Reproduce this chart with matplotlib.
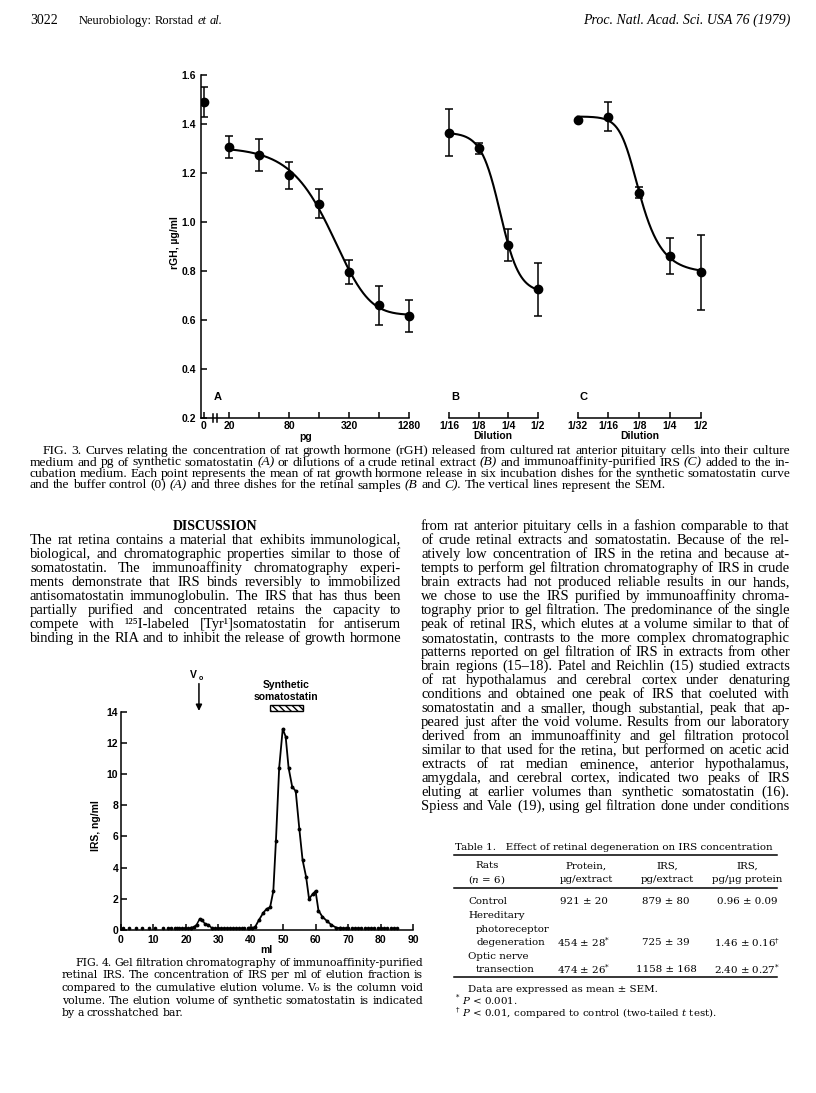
import numpy as np
import matplotlib
matplotlib.use("Agg")
import matplotlib.pyplot as plt
from matplotlib.patches import Rectangle
from matplotlib.lines import Line2D
from matplotlib.ticker import NullLocator

W, H = 816, 1093
SANS = ["Liberation Sans", "DejaVu Sans"]
SERIF = ["Liberation Serif", "DejaVu Serif"]
WIDE = ["DejaVu Serif"]
plt.rcParams["mathtext.fontset"] = "dejavuserif"

# ---- Fig. 3 data (rGH, ug/ml, mean and SEM) ----
pg_doses = [20, 40, 80, 160, 320, 640, 1280]
rgh_a = [1.305, 1.275, 1.19, 1.075, 0.795, 0.66, 0.615]
sem_a = [0.045, 0.065, 0.055, 0.06, 0.05, 0.08, 0.065]
control_rgh = 1.49
control_sem = 0.06
control_pos = 11.2  # where the "0" dose sits on the broken axis

dil_b = [1 / 16, 1 / 8, 1 / 4, 1 / 2]
rgh_b = [1.365, 1.30, 0.905, 0.725]
sem_b = [0.095, 0.022, 0.066, 0.109]

dil_c = [1 / 32, 1 / 16, 1 / 8, 1 / 4, 1 / 2]
rgh_c = [1.415, 1.43, 1.12, 0.862, 0.795]
sem_c = [0.0, 0.06, 0.022, 0.073, 0.153]

a_tick_pos = [control_pos, 20, 40, 80, 160, 320, 640, 1280]
a_tick_lab = ["0", "20", "", "80", "", "320", "", "1280"]
b_tick_lab = ["1/16", "1/8", "1/4", "1/2"]
c_tick_lab = ["1/32", "1/16", "1/8", "1/4", "1/2"]
rgh_ticks = [0.2, 0.4, 0.6, 0.8, 1.0, 1.2, 1.4, 1.6]

# ---- Fig. 4 data (IRS, ng/ml vs elution volume, ml) ----
base_ml = [0.5, 2.5, 4.5, 6.5, 8.5, 10.5, 13, 14.5, 15.5, 16.5, 17.3, 18,
           18.8, 19.7, 20.7, 21.5, 28.8, 29.8, 30.8, 31.8, 32.6, 33.5, 34.5,
           35.5, 36.3, 37.2, 38, 39, 67.3, 68.3, 69.2, 70, 71, 72, 73, 74, 75,
           76, 77, 78, 79, 80, 81, 82, 83, 84, 85]
base_irs = [0.15, 0.15, 0.15, 0.15, 0.15, 0.15, 0.15, 0.15, 0.15, 0.15, 0.15,
            0.15, 0.15, 0.15, 0.15, 0.15, 0.1, 0.1, 0.1, 0.1, 0.1, 0.1, 0.1,
            0.1, 0.1, 0.1, 0.1, 0.1, 0.12, 0.12, 0.12, 0.12, 0.12, 0.12, 0.12,
            0.12, 0.12, 0.12, 0.12, 0.12, 0.12, 0.12, 0.12, 0.12, 0.12, 0.12,
            0.12]
void_ml = [21.5, 22.5, 23.3, 24.2, 25.0, 25.8, 26.8, 28.0]
void_irs = [0.15, 0.2, 0.35, 0.7, 0.65, 0.4, 0.35, 0.12]
peak_ml = [39.5, 40.2, 41.3, 42.5, 43.8, 44.8, 45.9, 46.9, 47.7, 48.7, 49.8,
           50.7, 51.6, 52.7, 53.8, 54.9, 55.9, 57.0, 57.9, 59.0, 59.9, 60.8,
           62.0, 63.3, 64.8, 66.3, 67.3]
peak_irs = [0.1, 0.1, 0.2, 0.65, 1.1, 1.35, 1.45, 2.5, 5.7, 10.4, 12.9, 12.4,
            10.4, 9.2, 8.9, 6.5, 4.5, 3.4, 2.0, 2.3, 2.5, 1.25, 0.85, 0.6,
            0.32, 0.15, 0.12]
void_volume = 24
somatostatin_ml = (46, 56)

fig = plt.figure(figsize=(W / 100, H / 100), dpi=100)
renderer = fig.canvas.get_renderer()


def fx(x):
    return x / W


def fy(y):
    return 1 - y / H


def add_axes(left, top, right, bottom):
    return fig.add_axes([fx(left), fy(bottom), (right - left) / W, (bottom - top) / H])


def fit_logistic(x, y, asym=False):
    # least squares logistic fit on log2 dose, grid over shape, linear for top/bottom
    x = np.asarray(x, float)
    y = np.asarray(y, float)
    best = None
    gs = np.linspace(0.3, 3.0, 19) if asym else [1.0]
    for c in np.linspace(x.min(), x.max(), 41):
        for s in np.linspace(0.5, 4.0, 36):
            for g in gs:
                f = 1 / (1 + np.exp(s * (x - c))) ** g
                A = np.column_stack([np.ones_like(x), f])
                coef = np.linalg.lstsq(A, y, rcond=None)[0]
                err = np.sum((A @ coef - y) ** 2)
                if best is None or err < best[0]:
                    best = (err, c, s, g, coef)
    _, c, s, g, coef = best
    return lambda xx: coef[0] + coef[1] / (1 + np.exp(s * (xx - c))) ** g


def style_ticks(ax, size=7.5):
    for lab in ax.get_xticklabels() + ax.get_yticklabels():
        lab.set_fontfamily(SANS)
        lab.set_fontweight("bold")
        lab.set_fontsize(size)


def dose_panel(ax, doses, vals, sems, asym=False):
    lx = np.log2(doses)
    curve = fit_logistic(lx, vals, asym)
    xx = np.linspace(lx[0], lx[-1], 300)
    ax.plot(2 ** xx, curve(xx), color="black", lw=1.5, clip_on=False)
    eb = ax.errorbar(doses, vals, yerr=sems, fmt="o", color="black", ms=6,
                     capsize=3, elinewidth=1.1, capthick=1.1)
    for art in [eb.lines[0], *eb.lines[1], *eb.lines[2]]:
        art.set_clip_on(False)
    ax.set_xscale("log", base=2)
    ax.set_ylim(0.2, 1.6)
    ax.xaxis.set_minor_locator(NullLocator())
    ax.spines[["top", "right"]].set_visible(False)
    ax.tick_params(direction="in", length=4, width=1.1, pad=2.5)
    for sp in ax.spines.values():
        sp.set_linewidth(1.1)
    ax.patch.set_alpha(0)


# ---------------- Fig. 3 ----------------
ax_a = add_axes(201, 75, 409, 418)
dose_panel(ax_a, pg_doses, rgh_a, sem_a, asym=True)
eb = ax_a.errorbar([control_pos], [control_rgh], yerr=[control_sem], fmt="o",
                   color="black", ms=6, capsize=3, elinewidth=1.1, capthick=1.1)
ax_a.set_xlim(10.48, 1280)
ax_a.set_xticks(a_tick_pos, a_tick_lab)
ax_a.set_yticks(rgh_ticks, [f"{v:.1f}" for v in rgh_ticks])
ax_a.tick_params(axis="y", pad=3.5)
ax_a.spines["bottom"].set_bounds(10.48, 1280)
for bx in (13.8, 15.2):
    ax_a.plot([bx, bx], [0.183, 0.217], color="black", lw=1.1, clip_on=False)
style_ticks(ax_a)

ax_b = add_axes(449, 75, 538, 418)
dose_panel(ax_b, dil_b, rgh_b, sem_b)
ax_b.set_xlim(dil_b[0], dil_b[-1])
ax_b.set_xticks(dil_b, b_tick_lab)
ax_b.spines["left"].set_visible(False)
ax_b.tick_params(axis="y", left=False, labelleft=False)
style_ticks(ax_b)

ax_c = add_axes(577.7, 75, 700.7, 418)
dose_panel(ax_c, dil_c, rgh_c, sem_c, asym=True)
ax_c.set_xlim(dil_c[0], dil_c[-1])
ax_c.set_xticks(dil_c, c_tick_lab)
ax_c.spines["left"].set_visible(False)
ax_c.tick_params(axis="y", left=False, labelleft=False)
style_ticks(ax_c)

lab_kw = dict(family=SANS, fontweight="bold", fontsize=7.5, ha="center", va="center")
fig.text(fx(175), fy(243), "rGH, µg/ml", rotation=90, **lab_kw)
fig.text(fx(306), fy(437), "pg", **lab_kw)
fig.text(fx(493), fy(436), "Dilution", **lab_kw)
fig.text(fx(640), fy(436), "Dilution", **lab_kw)
for letter, px in (("A", 218), ("B", 455), ("C", 584)):
    fig.text(fx(px), fy(397), letter, family=SANS, fontweight="bold", fontsize=8,
             ha="center", va="center")

# ---------------- Fig. 4 ----------------
ax4 = add_axes(121, 711.7, 413.3, 930)
ax4.plot(base_ml, base_irs, "o", color="black", ms=1.6, clip_on=False)
ax4.plot(void_ml, void_irs, "-o", color="black", lw=1.1, ms=1.8)
ax4.plot(peak_ml, peak_irs, "-o", color="black", lw=1.3, ms=1.8)
ax4.set_xlim(0, 90)
ax4.set_ylim(0, 14)
ax4.set_xticks(range(0, 91, 10))
ax4.set_yticks(range(0, 15, 2))
ax4.spines[["top", "right"]].set_visible(False)
for sp in ax4.spines.values():
    sp.set_linewidth(1.1)
ax4.tick_params(direction="in", length=4, width=1.1)
ax4.tick_params(axis="x", pad=3.5)
ax4.tick_params(axis="y", pad=2)
ax4.patch.set_alpha(0)
style_ticks(ax4)
ax4.add_patch(Rectangle((somatostatin_ml[0], 14.07), somatostatin_ml[1] - somatostatin_ml[0],
                        0.36, facecolor="white", edgecolor="black", lw=1.0,
                        hatch="\\\\\\\\\\", clip_on=False))
ax4.annotate("", xy=(void_volume, 14.05), xytext=(void_volume, 15.8),
             arrowprops=dict(arrowstyle="-|>", color="black", lw=1.1,
                             mutation_scale=9, shrinkA=0, shrinkB=0),
             annotation_clip=False)
fig.text(fx(193.5), fy(678), "V", family=SANS, fontweight="bold", fontsize=7.5,
         ha="center", va="baseline")
fig.text(fx(200.5), fy(680), "o", family=SANS, fontweight="bold", fontsize=5,
         ha="center", va="baseline")
fig.text(fx(286), fy(685), "Synthetic", **lab_kw)
fig.text(fx(286), fy(696.5), "somatostatin", **lab_kw)
fig.text(fx(96), fy(826), "IRS, ng/ml", rotation=90, **lab_kw)
fig.text(fx(266), fy(950), "ml", **lab_kw)


# ---------------- text of the page ----------------
def para(lines, x0, x1, y0, dy, size, family, first_x=None, justify_last=False,
         weight="normal"):
    rows = []
    for i, line in enumerate(lines):
        words = []
        for w in line.split():
            style = "normal"
            if w.startswith("~"):
                w, style = w[1:], "italic"
            words.append(fig.text(0, fy(y0 + i * dy), w, fontsize=size, family=family,
                                  style=style, weight=weight, va="baseline", ha="left"))
        rows.append(words)
    starts = [x0] * len(rows)
    if first_x is not None:
        starts[0] = first_x

    def measure():
        return [[t.get_window_extent(renderer).width for t in r] for r in rows]

    wd = measure()
    sp = size * 100 / 72 * 0.25
    ratio = max((sum(w) + sp * (len(w) - 1)) / (x1 - s) for w, s in zip(wd, starts))
    if ratio > 1:
        size /= ratio
        sp /= ratio
        for r in rows:
            for t in r:
                t.set_fontsize(size)
        wd = measure()
    for i, (r, w) in enumerate(zip(rows, wd)):
        gap = sp
        if len(r) > 1 and (i < len(rows) - 1 or justify_last):
            gap = (x1 - starts[i] - sum(w)) / (len(r) - 1)
        x = starts[i]
        for t, wi in zip(r, w):
            t.set_x(fx(x))
            x += wi + gap


# running head
fig.text(fx(30), fy(24), "3022", family=SERIF, fontsize=10, va="baseline")
para(["Neurobiology: Rorstad ~et ~al."], 79, 400, 24, 0, 9, SERIF)
fig.text(fx(790), fy(24), "Proc. Natl. Acad. Sci. USA 76 (1979)", family=SERIF,
         style="italic", fontsize=10, ha="right", va="baseline")

fig3_caption = [
    "FIG. 3.   Curves relating the concentration of rat growth hormone (rGH) released from cultured rat anterior pituitary cells into their culture",
    "medium and pg of synthetic somatostatin ~(A) or dilutions of a crude retinal extract ~(B) and immunoaffinity-purified IRS ~(C) added to the in-",
    "cubation medium. Each point represents the mean of rat growth hormone release in six incubation dishes for the synthetic somatostatin curve",
    "and the buffer control (0) ~(A) and three dishes for the retinal samples ~(B and ~C). The vertical lines represent the SEM.",
]
para(fig3_caption, 30, 790, 454, 11.5, 10, SERIF, first_x=43)

fig.text(fx(215), fy(530), "DISCUSSION", family=SERIF, fontsize=10,
         weight="bold", ha="center", va="baseline")

left_col = [
    "The rat retina contains a material that exhibits immunological,",
    "biological, and chromatographic properties similar to those of",
    "somatostatin. The immunoaffinity chromatography experi-",
    "ments demonstrate that IRS binds reversibly to immobilized",
    "antisomatostatin immunoglobulin. The IRS that has thus been",
    "partially purified and concentrated retains the capacity to",
    "compete with ¹²⁵I-labeled [Tyr¹]somatostatin for antiserum",
    "binding in the RIA and to inhibit the release of growth hormone",
]
para(left_col, 30, 401, 544, 14.0, 10.5, SERIF, justify_last=True)

right_col = [
    "from rat anterior pituitary cells in a fashion comparable to that",
    "of crude retinal extracts and somatostatin. Because of the rel-",
    "atively low concentration of IRS in the retina and because at-",
    "tempts to perform gel filtration chromatography of IRS in crude",
    "brain extracts had not produced reliable results in our hands,",
    "we chose to use the IRS purified by immunoaffinity chroma-",
    "tography prior to gel filtration. The predominance of the single",
    "peak of retinal IRS, which elutes at a volume similar to that of",
    "somatostatin, contrasts to the more complex chromatographic",
    "patterns reported on gel filtration of IRS in extracts from other",
    "brain regions (15–18). Patel and Reichlin (15) studied extracts",
    "of rat hypothalamus and cerebral cortex under denaturing",
    "conditions and obtained one peak of IRS that coeluted with",
    "somatostatin and a smaller, though substantial, peak that ap-",
    "peared just after the void volume. Results from our laboratory",
    "derived from an immunoaffinity and gel filtration protocol",
    "similar to that used for the retina, but performed on acetic acid",
    "extracts of rat median eminence, anterior hypothalamus,",
    "amygdala, and cerebral cortex, indicated two peaks of IRS",
    "eluting at earlier volumes than synthetic somatostatin (16).",
    "Spiess and Vale (19), using gel filtration done under conditions",
]
para(right_col, 421, 790, 530, 14.0, 10.5, SERIF, justify_last=True)

fig4_caption = [
    "FIG. 4.   Gel filtration chromatography of immunoaffinity-purified",
    "retinal IRS. The concentration of IRS per ml of elution fraction is",
    "compared to the cumulative elution volume. V₀ is the column void",
    "volume. The elution volume of synthetic somatostatin is indicated",
    "by a crosshatched bar.",
]
para(fig4_caption, 62, 423, 965.5, 12.7, 8.4, WIDE, first_x=75)

# ---------------- Table 1 ----------------
tk = dict(family=WIDE, fontsize=7.4, va="center")
fig.text(fx(614), fy(848), "Table 1.   Effect of retinal degeneration on IRS concentration",
         ha="center", **tk)
for yy in (855, 888, 977):
    fig.add_artist(Line2D([fx(454), fx(777)], [fy(yy), fy(yy)], color="black", lw=1.1,
                          transform=fig.transFigure))
col_x = [487, 586, 667, 747]
head1 = ["Rats", "Protein,", "IRS,", "IRS,"]
head2 = ["($n$ = 6)", "µg/extract", "pg/extract", "pg/µg protein"]
for cx, h1, h2 in zip(col_x, head1, head2):
    fig.text(fx(cx), fy(866), h1, ha="center", **tk)
    fig.text(fx(cx), fy(880), h2, ha="center", **tk)

row_labels = [("Control", 468, 901.7), ("Hereditary", 468, 915.5),
              ("photoreceptor", 476, 929), ("degeneration", 476, 942.7),
              ("Optic nerve", 468, 956.5), ("transection", 476, 970)]
for txt, rx, ry in row_labels:
    fig.text(fx(rx), fy(ry), txt, ha="left", **tk)
protein = ["921 ± 20", "454 ± 28$^{*}$", "474 ± 26$^{*}$"]
irs_extract = ["879 ± 80", "725 ± 39", "1158 ± 168"]
irs_protein = ["0.96 ± 0.09", "1.46 ± 0.16$^{\\dagger}$", "2.40 ± 0.27$^{*}$"]
for ry, p, e, q in zip((901.7, 942.7, 970), protein, irs_extract, irs_protein):
    fig.text(fx(584), fy(ry), p, ha="center", **tk)
    fig.text(fx(666), fy(ry), e, ha="center", **tk)
    fig.text(fx(747), fy(ry), q, ha="center", **tk)
note_kw = dict(family=WIDE, fontsize=7.4, va="baseline", ha="left")
fig.text(fx(468), fy(991.5), "Data are expressed as mean ± SEM.", **note_kw)
fig.text(fx(456), fy(1000), "*", family=WIDE, fontsize=5, va="baseline")
fig.text(fx(462), fy(1003.5), "$P$ < 0.001.", **note_kw)
fig.text(fx(456), fy(1012), "†", family=WIDE, fontsize=5, va="baseline")
fig.text(fx(462), fy(1015.5), "$P$ < 0.01, compared to control (two-tailed $t$ test).",
         **note_kw)

fig.savefig("out.png", dpi=100)
